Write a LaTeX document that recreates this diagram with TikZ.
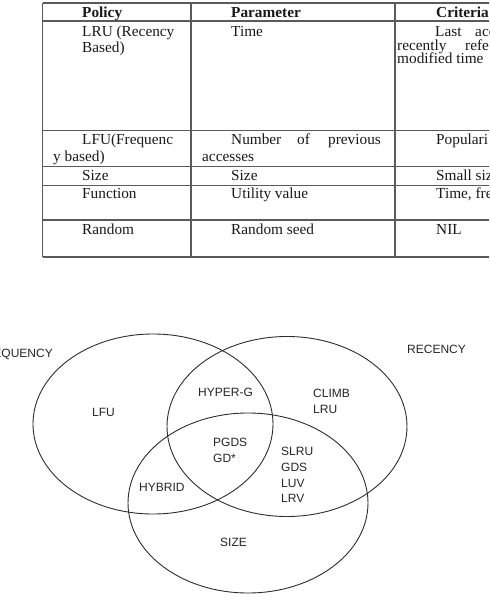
\documentclass[tikz,border=0pt]{standalone}
\usepackage{fontspec}
\setmainfont{Liberation Serif}
\newfontfamily\vennfont{Liberation Sans}
\usetikzlibrary{shapes.geometric}
\definecolor{tablegray}{HTML}{5A5A5A}
\definecolor{venngray}{HTML}{2E2E2E}
\tikzset{
  tline/.style={draw=tablegray, line width=1.4pt},
  tt/.style={font=\fontsize{15.3}{17}\selectfont, inner sep=0pt, anchor=base west, text=black!90},
  vt/.style={font=\vennfont\fontsize{12}{14}\selectfont, inner sep=0pt, anchor=base west, text=black!85},
  vset/.style={draw=venngray, line width=0.9pt, ellipse, minimum width=240pt, minimum height=180pt, inner sep=0pt}
}
\begin{document}
\begin{tikzpicture}[x=1pt,y=-1pt]
\useasboundingbox (0,0) rectangle (489,601);
\clip (0,0) rectangle (489,601);
\fill[white] (0,0) rectangle (489,601);
% table grid
\foreach \yy in {3,21,130.5,166.5,185.5,220,257}{\draw[tline] (42.5,\yy) -- (495,\yy);}
\foreach \xx in {42.5,191,395}{\draw[tline] (\xx,3) -- (\xx,257);}
% header
\node[tt] (h1) at (82,17.5) {\textbf{Policy}};
\node[tt] (h2) at (231,17.5) {\textbf{Parameter}};
\node[tt] (h3) at (436,17.5) {\textbf{Criteria}};
% row 1
\node[tt] (r1a) at (82,36.5) {LRU (Recency};
\node[tt] (r1b) at (82,53) {Based)};
\node[tt] (r1c) at (231,36.5) {Time};
\node[tt] (r1d) at (435,36.5) {Last};
\node[tt] (r1e) at (475,36.5) {acc};
\node[tt] (r1f) at (397,50.5) {recently};
\node[tt] (r1g) at (465,50.5) {refe};
\node[tt] (r1h) at (397,64) {modified time};
% row 2
\node[tt] (r2a) at (82,145) {LFU(Frequenc};
\node[tt] (r2b) at (53,161.5) {y based)};
\node[tt] (r2c) at (231,145) {Number};
\node[tt] (r2d) at (297,145) {of};
\node[tt] (r2e) at (328,145) {previous};
\node[tt] (r2f) at (202,161.5) {accesses};
\node[tt] (r2g) at (436,145) {Populari};
% row 3
\node[tt] (r3a) at (82,181) {Size};
\node[tt] (r3b) at (231,181) {Size};
\node[tt] (r3c) at (436,181) {Small siz};
% row 4
\node[tt] (r4a) at (82,198.5) {Function};
\node[tt] (r4b) at (231,198.5) {Utility value};
\node[tt] (r4c) at (436,198.5) {Time, fre};
% row 5
\node[tt] (r5a) at (82,235) {Random};
\node[tt] (r5b) at (231,235) {Random seed};
\node[tt] (r5c) at (436,235) {NIL};
% venn
\node[vset] (freq) at (153,424) {};
\node[vset] (rec) at (287,426.5) {};
\node[vset] (size) at (248,503) {};
\node[vt, anchor=base east] (lfreq) at (53,357.5) {FREQUENCY};
\node[vt] (lrec) at (407,353.5) {RECENCY};
\node[vt] (llfu) at (92,416.5) {LFU};
\node[vt] (lhyp) at (198,396.5) {HYPER-G};
\node[vt] (lclimb) at (313,397.5) {CLIMB};
\node[vt] (llru) at (313,413.5) {LRU};
\node[vt] (lpgds) at (213,446.5) {PGDS};
\node[vt] (lgd) at (213,462.5) {GD*};
\node[vt] (lslru) at (281,455.5) {SLRU};
\node[vt] (lgds) at (281,471.5) {GDS};
\node[vt] (lluv) at (281,487.5) {LUV};
\node[vt] (llrv) at (281,502.5) {LRV};
\node[vt] (lhyb) at (139,491.5) {HYBRID};
\node[vt] (lsize) at (220,546.5) {SIZE};
\end{tikzpicture}
\end{document}
